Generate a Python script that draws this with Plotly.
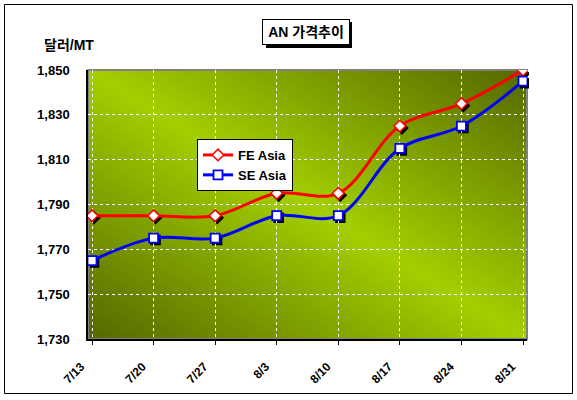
import plotly.graph_objects as go
import urllib.parse

categories = ["7/13", "7/20", "7/27", "8/3", "8/10", "8/17", "8/24", "8/31"]
fe_asia = [1785, 1785, 1785, 1795, 1795, 1825, 1835, 1850]
se_asia = [1765, 1775, 1775, 1785, 1785, 1815, 1825, 1845]
y_ticks = [1730, 1750, 1770, 1790, 1810, 1830, 1850]

W, H = 577, 400
ML, MT = 88, 70
PW, PH = 441, 271          # paper plot area (main + 2px shadow room)
MR, MB = W - ML - PW, H - MT - PH
SH = 2                      # shadow offset px
dx, dy = SH / PW, SH / PH

def X(px):
    return (px - ML) / PW

def Y(py):
    return (MT + PH - py) / PH

XR = [-0.065, 7.065]
YR = [1730, 1850]
FONT = "Liberation Sans, Arial, Noto Sans CJK KR, sans-serif"

fig = go.Figure()

# marker shadows (subplot xy, shifted right/down, drawn first)
for vals, sym in [(fe_asia, "diamond"), (se_asia, "square")]:
    fig.add_trace(go.Scatter(
        x=categories, y=vals, mode="markers", xaxis="x", yaxis="y",
        marker=dict(symbol=sym, size=9, color="black", line=dict(color="black", width=1.5)),
        showlegend=False, hoverinfo="skip"))

# main series (subplot x2y2 with the visible axes)
fig.add_trace(go.Scatter(
    x=categories, y=fe_asia, name="FE Asia", mode="lines+markers", xaxis="x2", yaxis="y2",
    line=dict(color="#ff0000", width=3, shape="spline", smoothing=1),
    marker=dict(symbol="diamond", size=9, color="white", line=dict(color="#ff0000", width=1.5))))
fig.add_trace(go.Scatter(
    x=categories, y=se_asia, name="SE Asia", mode="lines+markers", xaxis="x2", yaxis="y2",
    line=dict(color="#0000ff", width=3, shape="spline", smoothing=1),
    marker=dict(symbol="square", size=9, color="white", line=dict(color="#0000ff", width=1.8))))

svg = ("<svg xmlns='http://www.w3.org/2000/svg' width='100' height='100' viewBox='0 0 100 100' "
       "preserveAspectRatio='none'><defs><linearGradient id='g' x1='0' y1='1' x2='1' y2='0'>"
       "<stop offset='0' stop-color='#546800'/><stop offset='0.5' stop-color='#a3cf00'/>"
       "<stop offset='1' stop-color='#546800'/></linearGradient></defs>"
       "<rect width='100' height='100' fill='url(#g)'/></svg>")
src = "data:image/svg+xml;charset=utf-8," + urllib.parse.quote(svg)

main_xd = [0, 1 - dx]
main_yd = [dy, 1]
sh_xd = [dx, 1]
sh_yd = [0, 1 - dy]

hidden = dict(visible=False, fixedrange=True)

fig.update_layout(
    width=W, height=H,
    margin=dict(l=ML, r=MR, t=MT, b=MB, pad=0),
    paper_bgcolor="white", plot_bgcolor="rgba(0,0,0,0)",
    font=dict(family=FONT, color="black", size=12),
    xaxis=dict(domain=sh_xd, anchor="y", range=XR, type="category", **hidden),
    yaxis=dict(domain=sh_yd, anchor="x", range=YR, **hidden),
    xaxis2=dict(domain=main_xd, anchor="y2", range=XR, type="category",
                tickangle=-45, tickfont=dict(size=12, family=FONT, weight="bold"),
                ticklabelshift=-11, ticklabelstandoff=10,
                showgrid=True, gridcolor="white", gridwidth=1, griddash="3px,3px",
                showline=True, linecolor="black", linewidth=2,
                ticks="outside", ticklen=4, tickcolor="black", tickwidth=1,
                zeroline=False, fixedrange=True),
    yaxis2=dict(domain=main_yd, anchor="x2", range=YR, tickmode="array",
                tickvals=y_ticks, tickformat=",", tickfont=dict(size=13, family=FONT, weight="bold"),
                showgrid=True, gridcolor="white", gridwidth=1, griddash="3px,3px",
                showline=True, linecolor="black", linewidth=1.5,
                ticks="", ticklabelstandoff=14, zeroline=False, fixedrange=True),
    legend=dict(x=X(197), y=Y(139), xanchor="left", yanchor="top",
                bgcolor="white", bordercolor="black", borderwidth=1,
                font=dict(size=13, family=FONT, weight="bold"),
                itemwidth=30, tracegroupgap=0),
    images=[dict(source=src, xref="paper", yref="paper", x=0, y=1,
                 sizex=1 - dx, sizey=1 - dy, xanchor="left", yanchor="top",
                 sizing="stretch", layer="below")],
    shapes=[
        dict(type="rect", xref="paper", yref="paper", x0=0, x1=1 - dx, y0=dy, y1=1,
             line=dict(color="#808080", width=2), layer="below"),
        dict(type="rect", xref="paper", yref="paper", x0=X(4.5), x1=X(572.5), y0=Y(393.5), y1=Y(4.5),
             line=dict(color="black", width=1)),
        dict(type="rect", xref="paper", yref="paper", x0=X(266), x1=X(352), y0=Y(48), y1=Y(22),
             fillcolor="black", line=dict(width=0)),
    ],
    annotations=[
        dict(text="<b>AN 가격추이</b>", xref="paper", yref="paper", x=X(306), y=Y(32),
             xanchor="center", yanchor="middle", showarrow=False,
             font=dict(size=14, family=FONT), bgcolor="white", bordercolor="black",
             borderwidth=1, borderpad=4, width=78),
        dict(text="<b>달러/MT</b>", xref="paper", yref="paper", x=X(42), y=Y(45),
             xanchor="left", yanchor="middle", showarrow=False, font=dict(size=14, family=FONT)),
    ],
)

fig.write_html("out.html", config={"displayModeBar": False},
               post_script="document.body.style.margin='0';document.body.style.padding='0';")
